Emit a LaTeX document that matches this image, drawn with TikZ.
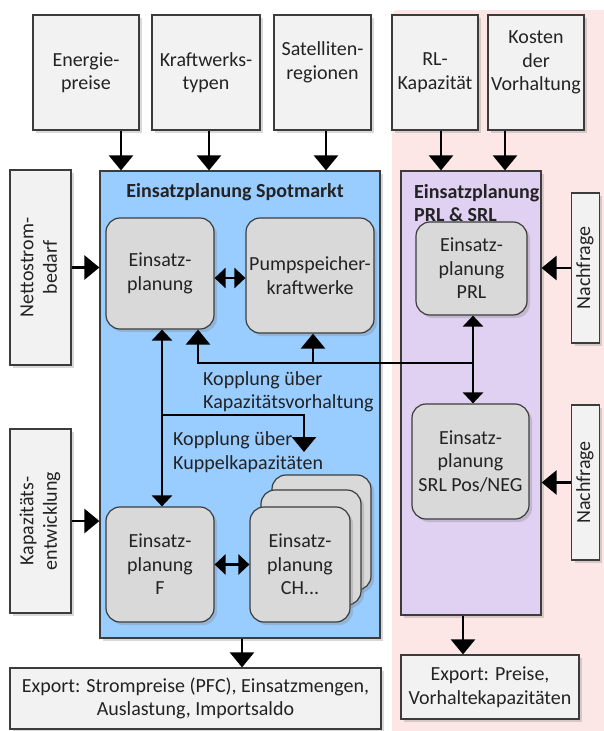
\documentclass[tikz,border=0pt]{standalone}
\usepackage{graphicx}
\usepackage{fontspec}
\setmainfont{Carlito}
\usepackage{tikz}
\usetikzlibrary{positioning, arrows.meta, shadows}

\definecolor{boxgray}{RGB}{242,242,242}
\definecolor{plangray}{RGB}{217,217,217}
\definecolor{linegray}{RGB}{60,60,60}
\definecolor{spotblue}{RGB}{153,204,255}
\definecolor{prlpurple}{RGB}{224,208,242}
\definecolor{pinkbg}{RGB}{252,230,230}
\definecolor{textgray}{RGB}{35,35,35}

\newcommand{\vlab}[1]{\rotatebox{90}{\begin{tabular}{@{}c@{}}#1\end{tabular}}}

\tikzset{
    inbox/.style={draw=linegray, line width=1.2pt, fill=boxgray, align=center, inner sep=2pt,
        drop shadow={shadow xshift=3pt, shadow yshift=-3pt, opacity=0.3}},
    planbox/.style={inbox, fill=plangray, rounded corners=14pt},
    panel/.style={draw=linegray, line width=1.2pt, inner sep=0pt,
        drop shadow={shadow xshift=3pt, shadow yshift=-3pt, opacity=0.3}},
    arr/.style={line width=2.6pt, -{Triangle[width=24pt,length=15pt]}},
    darr/.style={line width=2.6pt, {Triangle[width=20pt,length=11pt]}-{Triangle[width=20pt,length=11pt]}},
}

\begin{document}
\begin{tikzpicture}[x=1pt, y=-1pt, font=\fontsize{20}{23.5}\selectfont, text=textgray]
    \useasboundingbox (0,0) rectangle (603,731);
    % Regelleistung background
    \fill[pinkbg, rounded corners=6pt] (392,10) rectangle (620,750);

    % Inputs on top
    \node[inbox, minimum width=106pt, minimum height=115pt] (preise) at (86,72.5) {Energie-\\preise};
    \node[inbox, minimum width=108pt, minimum height=115pt] (typen) at (206,72.5) {Kraftwerks-\\typen};
    \node[inbox, minimum width=97pt, minimum height=115pt] (regionen) at (322.5,72.5) {Satelliten-\\regionen\\\mbox{}};
    \node[inbox, minimum width=86pt, minimum height=115pt] (rlkap) at (435,72.5) {RL-\\Kapazität};
    \node[inbox, minimum width=96pt, minimum height=115pt] (kosten) at (536,72.5) {Kosten\\der\\Vorhaltung\\\mbox{}};

    % Inputs on the sides
    \node[inbox, minimum width=61pt, minimum height=195pt] (netto) at (40.5,267.5) {\vlab{Nettostrom-\\bedarf}};
    \node[inbox, minimum width=61pt, minimum height=184pt] (kapent) at (40.5,521) {\vlab{Kapazitäts-\\entwicklung}};
    \node[inbox, minimum width=27pt, minimum height=150pt] (nachfrageA) at (585.5,268) {\vlab{Nachfrage}};
    \node[inbox, minimum width=27pt, minimum height=155pt] (nachfrageB) at (585.5,482.5) {\vlab{Nachfrage}};

    % Spotmarkt
    \node[panel, fill=spotblue, minimum width=280pt, minimum height=467pt] (spot) at (240,404.5) {};
    \node[font=\fontsize{20}{23.5}\selectfont\bfseries] (spottitle) at (235,192) {Einsatzplanung Spotmarkt};
    \node[planbox, minimum width=108pt, minimum height=111pt] (ein) at (160,273.5) {Einsatz-\\planung};
    \node[planbox, minimum width=128pt, minimum height=115pt] (psw) at (310,275.5) {Pumpspeicher-\\kraftwerke};
    \node[planbox, minimum width=108pt, minimum height=115pt] (einf) at (160,564.5) {Einsatz-\\planung\\F};
    \node[planbox, minimum width=99pt, minimum height=115pt] (chc) at (321.5,532.5) {};
    \node[planbox, minimum width=100pt, minimum height=115pt] (chb) at (311,547.5) {};
    \node[planbox, minimum width=100pt, minimum height=115pt] (ch) at (300,564.5) {Einsatz-\\planung\\CH...};
    \node[anchor=west, align=left, inner sep=0pt] (vorhaltlab) at (203,392) {Kopplung über\\Kapazitätsvorhaltung};
    \node[anchor=west, align=left, inner sep=0pt] (kuppellab) at (173,452) {Kopplung über\\Kuppelkapazitäten};

    % PRL & SRL
    \node[panel, fill=prlpurple, minimum width=140pt, minimum height=444pt] (prlsrl) at (471,393) {};
    \node[anchor=west, align=left, inner sep=0pt, font=\fontsize{20}{23.5}\selectfont\bfseries] (prltitle) at (414,203) {Einsatzplanung\\PRL \& SRL};
    \node[planbox, minimum width=111pt, minimum height=93pt] (prl) at (471.5,268.5) {Einsatz-\\planung\\PRL};
    \node[planbox, minimum width=117pt, minimum height=115pt] (srl) at (470.5,461.5) {Einsatz-\\planung\\SRL Pos/NEG};

    % Outputs
    \node[inbox, minimum width=371pt, minimum height=61pt] (exportspot) at (195.5,698.5) {Export: Strompreise (PFC), Einsatzmengen,\\Auslastung, Importsaldo};
    \node[inbox, minimum width=178pt, minimum height=64pt] (exportrl) at (490,687) {Export: Preise,\\Vorhaltekapazitäten};

    % Arrows from inputs
    \draw[arr] ([xshift=35pt]preise.south) -- ([xshift=35pt]preise.south |- spot.north);
    \draw[arr] ([xshift=3pt]typen.south) -- ([xshift=3pt]typen.south |- spot.north);
    \draw[arr] ([xshift=3.5pt]regionen.south) -- ([xshift=3.5pt]regionen.south |- spot.north);
    \draw[arr] ([xshift=6pt]rlkap.south) -- ([xshift=6pt]rlkap.south |- prlsrl.north);
    \draw[arr] ([xshift=-31pt]kosten.south) -- ([xshift=-31pt]kosten.south |- prlsrl.north);
    \draw[arr] (netto.east) -- (netto.east -| spot.west);
    \draw[arr] (kapent.east) -- (kapent.east -| spot.west);
    \draw[arr] (nachfrageA.west) -- (nachfrageA.west -| prlsrl.east);
    \draw[arr] (nachfrageB.west) -- (nachfrageB.west -| prlsrl.east);

    % Couplings
    \draw[darr] ([yshift=-4.5pt]ein.east) -- ([yshift=-4.5pt]ein.east -| psw.west);
    \draw[darr] (einf.east) -- (einf.east -| ch.west);
    \draw[darr] ([xshift=2pt]ein.south) -- ([xshift=2pt]ein.south |- einf.north);
    \draw[darr] ([xshift=1.5pt]prl.south) -- ([xshift=1.5pt]prl.south |- srl.north);
    \coordinate (kuppel) at (162,415);
    \coordinate (kuppelend) at (304,452);
    \draw[arr] (kuppel) -| (kuppelend);
    \coordinate (vorhalt) at (473,363);
    \draw[arr] (vorhalt) -| ([xshift=38pt]ein.south);
    \draw[arr] ([xshift=3pt]psw.south |- vorhalt) -- ([xshift=3pt]psw.south);

    % Arrows to outputs
    \draw[arr] ([xshift=2pt]spot.south) -- ([xshift=2pt]spot.south |- exportspot.north);
    \draw[arr] ([xshift=-8pt]prlsrl.south) -- ([xshift=-8pt]prlsrl.south |- exportrl.north);
\end{tikzpicture}
\end{document}
